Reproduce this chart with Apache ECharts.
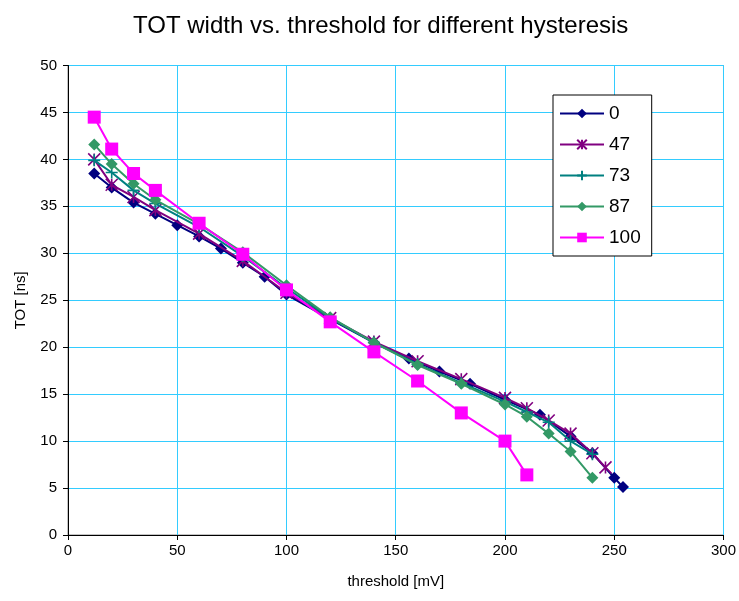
<!DOCTYPE html>
<html><head><meta charset="utf-8">
<script src="https://cdn.jsdelivr.net/npm/echarts@6/dist/echarts.min.js"></script>
<style>html,body{margin:0;padding:0;background:#fff}#c{width:739px;height:601px}</style>
</head><body><div id="c"></div>
<script>
const seriesNames = ['0', '47', '73', '87', '100'];
const x0 = [12, 20, 30, 40, 50, 60, 70, 80, 90, 100, 120, 140, 156, 170, 184, 200, 216, 230, 240, 250, 254];
const y0 = [38.5, 37.0, 35.4, 34.2, 33.0, 31.8, 30.5, 29.0, 27.5, 25.6, 23.0, 20.5, 18.8, 17.4, 16.1, 14.4, 12.8, 10.5, 8.7, 6.1, 5.1];
const x47 = [12, 20, 30, 40, 60, 80, 100, 120, 140, 160, 180, 200, 210, 220, 230, 240, 246];
const y47 = [40.0, 37.3, 36.0, 34.6, 32.1, 29.2, 25.8, 23.1, 20.6, 18.5, 16.6, 14.6, 13.5, 12.2, 10.8, 8.7, 7.2];
const x73 = [12, 20, 30, 40, 60, 80, 100, 120, 140, 160, 180, 200, 210, 220, 230, 240];
const y73 = [39.9, 38.6, 36.7, 35.3, 32.8, 29.7, 26.3, 23.1, 20.5, 18.2, 16.2, 14.2, 13.1, 12.0, 10.0, 8.6];
const x87 = [12, 20, 30, 40, 60, 80, 100, 120, 140, 160, 180, 200, 210, 220, 230, 240];
const y87 = [41.6, 39.5, 37.4, 35.7, 33.1, 30.1, 26.6, 23.2, 20.5, 18.1, 16.1, 13.9, 12.6, 10.8, 8.9, 6.1];
const x100 = [12, 20, 30, 40, 60, 80, 100, 120, 140, 160, 180, 200, 210];
const y100 = [44.5, 41.1, 38.5, 36.7, 33.2, 29.9, 26.1, 22.7, 19.5, 16.4, 13.0, 10.0, 6.4];
const xTicks = [0, 50, 100, 150, 200, 250, 300];
const yTicks = [0, 5, 10, 15, 20, 25, 30, 35, 40, 45, 50];

const xs = [x0, x47, x73, x87, x100];
const ys = [y0, y47, y73, y87, y100];
const colors = ['#000080', '#800080', '#008080', '#339966', '#FF00FF'];
const asterisk = 'path://M0 0L10 10M10 0L0 10M5 0L5 10';
const plus = 'path://M5 0L5 10M0 5L10 5';
const symbols = ['diamond', asterisk, plus, 'diamond', 'rect'];
const sizes = [12, 12, 12, 12, 13];
const FONT = 'Liberation Sans, Arial, sans-serif';

const series = seriesNames.map((n, i) => {
  const stroke = (i === 1 || i === 2);
  return {
    name: n, type: 'line',
    data: xs[i].map((x, k) => [x, ys[i][k]]),
    symbol: symbols[i], symbolSize: sizes[i],
    showAllSymbol: true,
    lineStyle: {color: colors[i], width: 2},
    itemStyle: stroke ? {color: 'none', borderColor: colors[i], borderWidth: 1.6}
                      : {color: colors[i], borderWidth: 0},
    emphasis: {disabled: true},
    animation: false,
    z: 2 + i
  };
});

const chart = echarts.init(document.getElementById('c'), null, {renderer: 'canvas'});
chart.setOption({
  backgroundColor: '#fff',
  animation: false,
  title: {
    text: 'TOT width vs. threshold for different hysteresis',
    left: 128, top: 9,
    textStyle: {fontFamily: FONT, fontSize: 24, fontWeight: 'normal', color: '#000'}
  },
  legend: {
    data: seriesNames,
    left: 553, top: 95,
    orient: 'vertical',
    itemWidth: 44, itemHeight: 12, itemGap: 12, itemTextGap: 5,
    padding: [9, 11, 9, 6],
    backgroundColor: '#fff', borderColor: '#000', borderWidth: 1,
    textStyle: {fontFamily: FONT, fontSize: 19, color: '#000'}
  },
  grid: {left: 68, right: 13, top: 65.5, bottom: 66, containLabel: false,
         show: true, borderColor: '#888', borderWidth: 1},
  xAxis: {
    type: 'value', min: 0, max: 300, interval: 50,
    name: 'threshold [mV]', nameLocation: 'middle', nameGap: 39,
    nameTextStyle: {fontFamily: FONT, fontSize: 15, color: '#000'},
    axisLine: {show: true, onZero: false, lineStyle: {color: '#000', width: 1}},
    axisTick: {show: true, length: 5, lineStyle: {color: '#000'}},
    axisLabel: {fontFamily: FONT, fontSize: 15, color: '#000', margin: 8,
                formatter: v => xTicks.includes(v) ? String(v) : ''},
    splitLine: {show: true, lineStyle: {color: '#33CCFF', width: 1}}
  },
  yAxis: {
    type: 'value', min: 0, max: 50, interval: 5,
    name: 'TOT [ns]', nameLocation: 'middle', nameGap: 40,
    nameTextStyle: {fontFamily: FONT, fontSize: 15, color: '#000'},
    axisLine: {show: true, onZero: false, lineStyle: {color: '#000', width: 1}},
    axisTick: {show: true, length: 5, lineStyle: {color: '#000'}},
    axisLabel: {fontFamily: FONT, fontSize: 15, color: '#000', margin: 11,
                formatter: v => yTicks.includes(v) ? String(v) : ''},
    splitLine: {show: true, lineStyle: {color: '#33CCFF', width: 1}}
  },
  series: series
});
</script>
</body></html>
